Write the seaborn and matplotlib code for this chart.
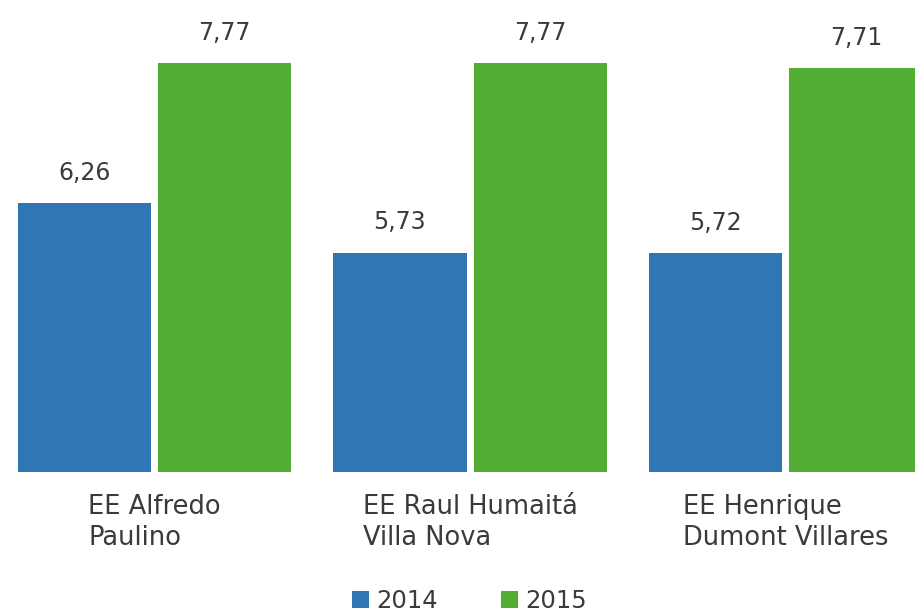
import matplotlib
matplotlib.use("Agg")
import matplotlib.pyplot as plt
import seaborn as sns
import pandas as pd
from matplotlib.patches import Patch

schools = ["EE Alfredo\nPaulino", "EE Raul Humaitá\nVilla Nova", "EE Henrique\nDumont Villares"]
years = ["2014", "2015"]
values_2014 = [6.26, 5.73, 5.72]
values_2015 = [7.77, 7.77, 7.71]
colors = ["#3176b4", "#53ad33"]

df = pd.DataFrame({
    "school": schools * 2,
    "year": [years[0]] * 3 + [years[1]] * 3,
    "value": values_2014 + values_2015,
})

sns.set_theme(style="white")
plt.rcParams["font.family"] = ["DejaVu Sans"]
text_color = "#3a3a3a"

fig = plt.figure(figsize=(9.15, 6.16), dpi=100)
bottom = (616 - 472) / 616
ax = fig.add_axes([0, bottom, 1, 1 - bottom])

sns.barplot(data=df, x="school", y="value", hue="year", palette=colors,
            width=0.89, gap=0.05, saturation=1, legend=False, linewidth=0, ax=ax)

ax.set_xlim(-0.49, 2.41)
ax.set_ylim(3.37, 8.445)
for s in ax.spines.values():
    s.set_visible(False)
ax.set_yticks([])
ax.set_xlabel("")
ax.set_ylabel("")
ax.set_xticks(range(len(schools)))
ax.set_xticklabels(schools, fontsize=18.5, color=text_color, ha="center",
                   multialignment="left", linespacing=1.25)
ax.tick_params(axis="x", length=0, pad=16)

for container, vals in zip(ax.containers, [values_2014, values_2015]):
    ax.bar_label(container, labels=[f"{v:.2f}".replace(".", ",") for v in vals],
                 padding=13, fontsize=17, color=text_color)

handles = [Patch(facecolor=c, edgecolor="none") for c in colors]
fig.legend(handles=handles, labels=years, loc="lower center",
           bbox_to_anchor=(0.513, -0.03), ncol=2, frameon=False,
           handlelength=0.7, handleheight=0.7, handletextpad=0.3,
           columnspacing=2.6, fontsize=17.5, labelcolor=text_color)

fig.savefig("out.png", dpi=100)
